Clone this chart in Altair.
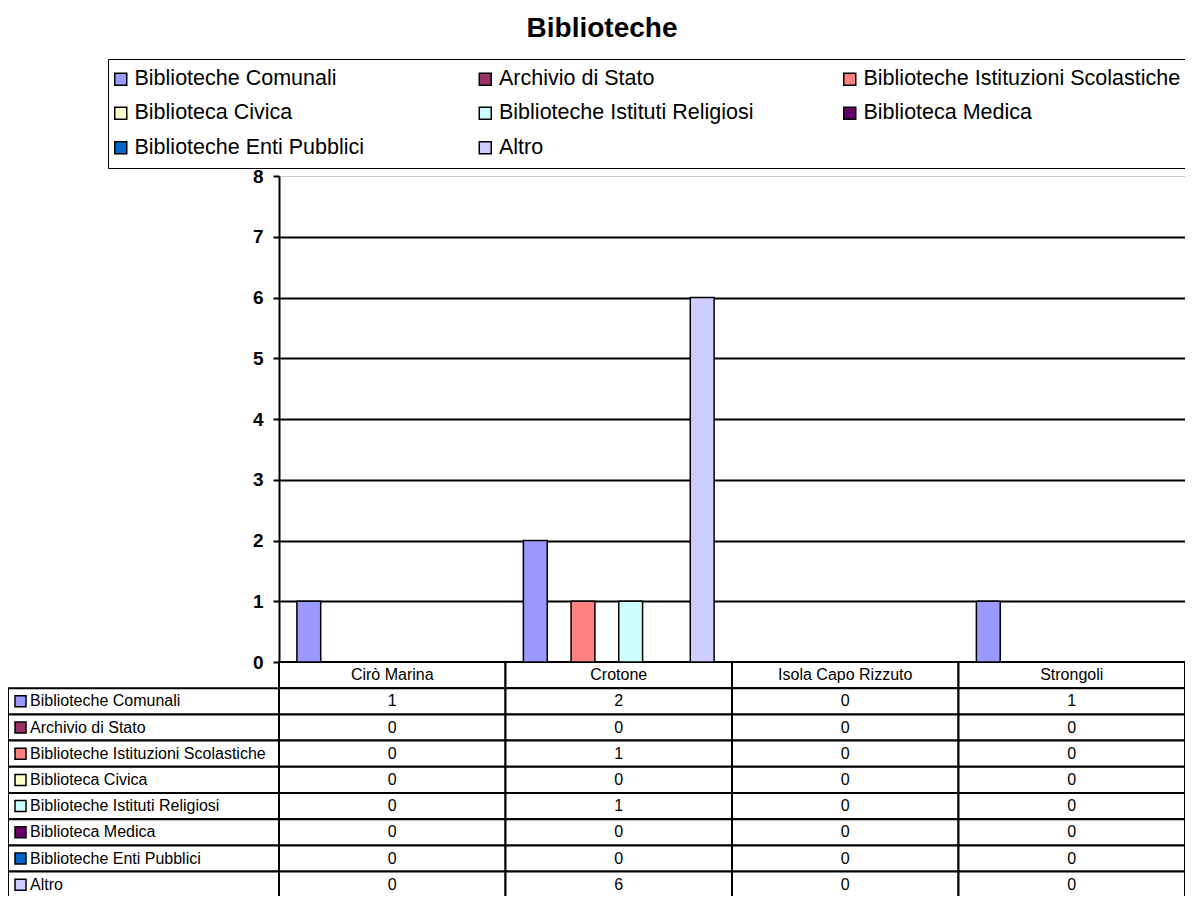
import altair as alt
import pandas as pd

# ---------------- data ----------------
categories = ["Cirò Marina", "Crotone", "Isola Capo Rizzuto", "Strongoli"]
series = [
    "Biblioteche Comunali",
    "Archivio di Stato",
    "Biblioteche Istituzioni Scolastiche",
    "Biblioteca Civica",
    "Biblioteche Istituti Religiosi",
    "Biblioteca Medica",
    "Biblioteche Enti Pubblici",
    "Altro",
]
colors = ["#9999FF", "#993366", "#FF8080", "#FFFFCC", "#CCFFFF", "#660066", "#0066CC", "#CCCCFF"]

biblioteche_comunali = [1, 2, 0, 1]
archivio_di_stato = [0, 0, 0, 0]
istituzioni_scolastiche = [0, 1, 0, 0]
biblioteca_civica = [0, 0, 0, 0]
istituti_religiosi = [0, 1, 0, 0]
biblioteca_medica = [0, 0, 0, 0]
enti_pubblici = [0, 0, 0, 0]
altro = [0, 6, 0, 0]

y_ticks = [0, 1, 2, 3, 4, 5, 6, 7, 8]

values_by_series = [
    biblioteche_comunali, archivio_di_stato, istituzioni_scolastiche, biblioteca_civica,
    istituti_religiosi, biblioteca_medica, enti_pubblici, altro,
]

# ---------------- tables ----------------
rows = []
for s, vals in zip(series, values_by_series):
    for c, v in zip(categories, vals):
        rows.append({"series": s, "category": c, "value": v})
df = pd.DataFrame(rows)
bars_df = df[df["value"] > 0]

HEADER = "__header__"
table_rows = [{"row": HEADER, "category": c, "label": c} for c in categories]
table_rows += [{"row": r["series"], "category": r["category"], "label": str(r["value"])} for r in rows]
table_df = pd.DataFrame(table_rows)

left_df = pd.DataFrame({"row": series, "col": ["c"] * len(series), "color": colors})

# ---------------- layout ----------------
W, H = 906, 486
ROW_H = 26.2
LEFT_W = 271
row_domain = [HEADER] + series
FONT = "Liberation Sans"

x_cat = alt.X("category:N", sort=categories,
              scale=alt.Scale(domain=categories, paddingInner=0, paddingOuter=0), axis=None)
row_y = alt.Y("row:N", sort=row_domain,
              scale=alt.Scale(domain=row_domain, range=[H, H + ROW_H * len(row_domain)],
                              paddingInner=0, paddingOuter=0), axis=None)
left_scale = alt.Scale(domain=["c"], range=[-LEFT_W, 0], paddingInner=0, paddingOuter=0)
left_x = alt.X("col:N", scale=left_scale, axis=None)

bars = alt.Chart(bars_df).mark_bar(stroke="black", strokeWidth=1.5).encode(
    x=x_cat,
    xOffset=alt.XOffset("series:N", sort=series,
                        scale=alt.Scale(domain=series, paddingInner=0, paddingOuter=0.75)),
    y=alt.Y("value:Q", scale=alt.Scale(domain=[0, 8], nice=False),
            axis=alt.Axis(orient="left", values=y_ticks, title=None, grid=True,
                          gridColor={"condition": {"test": "datum.value === 8", "value": "#c8c8c8"}, "value": "black"},
                          gridWidth={"condition": {"test": "datum.value === 8", "value": 1}, "value": 2},
                          domainColor="black", domainWidth=2, tickColor="black", tickSize=6, tickWidth=2,
                          labelFont=FONT, labelFontSize=19, labelFontWeight="bold", labelColor="black",
                          labelPadding=10)),
    color=alt.Color("series:N", sort=series, scale=alt.Scale(domain=series, range=colors),
                    legend=alt.Legend(orient="none", legendX=-171, legendY=-117, columns=3,
                                      direction="horizontal", gridAlign="all", columnPadding=23.5,
                                      rowPadding=11.5, padding=9, strokeColor="black", fillColor="white",
                                      symbolType="square", symbolSize=144, symbolStrokeColor="black",
                                      symbolStrokeWidth=1.5, symbolOpacity=1, symbolOffset=-7,
                                      labelFont=FONT, labelFontSize=21.5, labelColor="black",
                                      labelOffset=3, labelLimit=500, title=None)),
)

cells = alt.Chart(table_df).mark_rect(fill="white", stroke="black", strokeWidth=2).encode(
    x=x_cat, y=row_y)
cell_text = alt.Chart(table_df).mark_text(font=FONT, fontSize=16, color="black", baseline="middle").encode(
    x=x_cat, y=row_y, text="label:N")

# left column: marks are placed relative to the centre of the single band
left_rect = alt.Chart(left_df).mark_rect(fill="white", stroke="black", strokeWidth=2).encode(
    x=left_x, y=row_y)
left_swatch = alt.Chart(left_df).mark_square(size=121, stroke="black", strokeWidth=1.5, opacity=1,
                                             xOffset=12.5 - LEFT_W / 2).encode(
    x=left_x, y=row_y, fill=alt.Fill("color:N", scale=None))
left_text = alt.Chart(left_df).mark_text(font=FONT, fontSize=16, color="black", align="left",
                                         baseline="middle", dx=22 - LEFT_W / 2).encode(
    x=left_x, y=row_y, text="row:N")

chart = alt.layer(cells, cell_text, left_rect, left_swatch, left_text, bars).resolve_scale(
    x="independent", y="independent"
).properties(
    width=W, height=H,
    autosize=alt.AutoSizeParams(type="none"),
    padding={"left": LEFT_W, "top": 168, "right": 0, "bottom": 234},
    title=alt.TitleParams("Biblioteche", font=FONT, fontSize=28, fontWeight="bold", color="black",
                          anchor="middle", dx=-130, dy=-12),
).configure_view(stroke=None).configure_legend(strokeWidth=2).configure(font=FONT)

chart.save("out.html", embed_options={"renderer": "svg", "actions": False})
